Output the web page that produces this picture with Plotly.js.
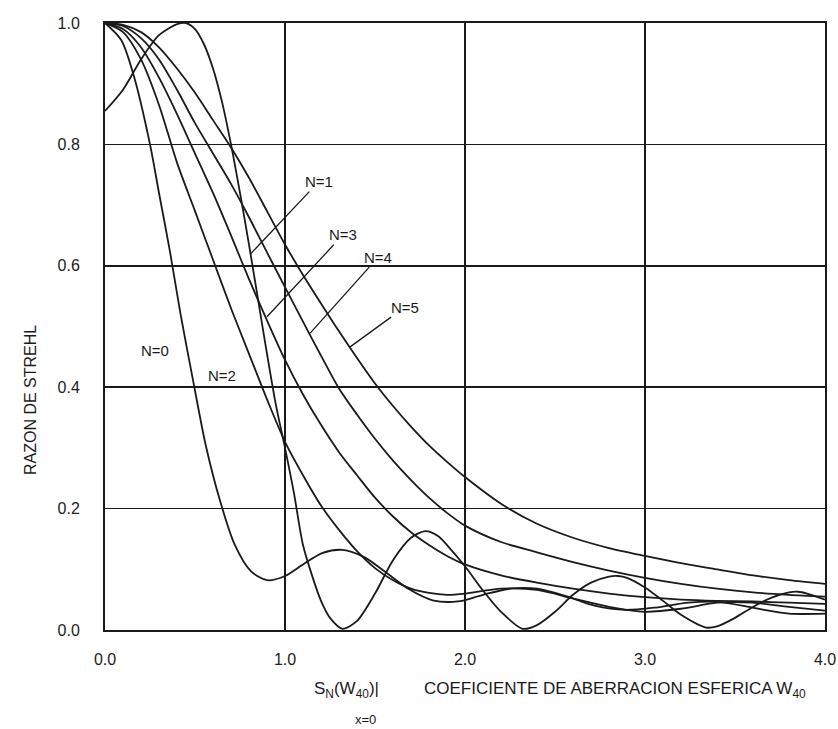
<!DOCTYPE html>
<html>
<head>
<meta charset="utf-8">
<script src="https://cdn.plot.ly/plotly-3.0.1.min.js"></script>
<style>html,body{margin:0;padding:0;background:#fff;}#chart{width:838px;height:729px;}</style>
</head>
<body>
<div id="chart"></div>
<script>
// N = 0
const xN0 = [0, 0.09, 0.16, 0.25, 0.30, 0.36, 0.42, 0.49, 0.56, 0.64, 0.72, 0.81, 0.90, 1.00, 1.10, 1.21, 1.32, 1.44, 1.56, 1.69, 1.82, 1.96, 2.10, 2.25, 2.40, 2.56, 2.72, 2.89, 3.06, 3.24, 3.42, 3.61, 3.80, 4.00];
const yN0 = [1.0, 0.972, 0.913, 0.800, 0.720, 0.625, 0.520, 0.410, 0.304, 0.212, 0.141, 0.097, 0.082, 0.089, 0.108, 0.127, 0.132, 0.120, 0.095, 0.067, 0.049, 0.047, 0.058, 0.068, 0.068, 0.056, 0.040, 0.033, 0.037, 0.045, 0.046, 0.036, 0.027, 0.027];
// N = 1
const xN1 = [0, 0.1, 0.2, 0.3, 0.4, 0.45, 0.5, 0.55, 0.6, 0.65, 0.7, 0.75, 0.8, 0.85, 0.9, 0.95, 1.0, 1.05, 1.1, 1.15, 1.2, 1.25, 1.32, 1.4, 1.5, 1.6, 1.7, 1.78, 1.85, 1.9, 2.0, 2.1, 2.2, 2.32, 2.4, 2.5, 2.6, 2.7, 2.8, 2.85, 2.9, 3.0, 3.1, 3.2, 3.34, 3.4, 3.5, 3.6, 3.7, 3.8, 3.85, 3.9, 4.0];
const yN1 = [0.855, 0.89, 0.94, 0.98, 0.998, 1.0, 0.99, 0.965, 0.925, 0.87, 0.80, 0.72, 0.635, 0.545, 0.455, 0.37, 0.30, 0.225, 0.14, 0.09, 0.048, 0.02, 0.002, 0.015, 0.06, 0.115, 0.152, 0.163, 0.155, 0.14, 0.105, 0.065, 0.03, 0.002, 0.008, 0.03, 0.058, 0.078, 0.088, 0.089, 0.086, 0.07, 0.048, 0.025, 0.004, 0.006, 0.02, 0.038, 0.053, 0.062, 0.063, 0.06, 0.05];
// N = 2
const xN2 = [0, 0.1, 0.2, 0.3, 0.4, 0.5, 0.6, 0.7, 0.8, 0.9, 1.0, 1.1, 1.2, 1.3, 1.4, 1.5, 1.6, 1.7, 1.8, 1.9, 2.0, 2.2, 2.4, 2.6, 2.8, 3.0, 3.2, 3.4, 3.6, 3.8, 4.0];
const yN2 = [1.0, 0.985, 0.94, 0.865, 0.77, 0.69, 0.61, 0.53, 0.455, 0.38, 0.31, 0.255, 0.205, 0.165, 0.13, 0.102, 0.082, 0.068, 0.061, 0.058, 0.06, 0.068, 0.066, 0.052, 0.038, 0.03, 0.035, 0.045, 0.045, 0.038, 0.032];
// N = 3
const xN3 = [0, 0.1, 0.2, 0.3, 0.4, 0.5, 0.6, 0.7, 0.8, 0.9, 1.0, 1.1, 1.2, 1.3, 1.4, 1.5, 1.6, 1.7, 1.8, 1.9, 2.0, 2.2, 2.4, 2.6, 2.8, 3.0, 3.2, 3.4, 3.6, 3.8, 4.0];
const yN3 = [1.0, 0.99, 0.96, 0.91, 0.85, 0.785, 0.72, 0.65, 0.578, 0.51, 0.445, 0.388, 0.338, 0.293, 0.255, 0.218, 0.187, 0.161, 0.14, 0.122, 0.108, 0.09, 0.078, 0.068, 0.06, 0.054, 0.05, 0.048, 0.047, 0.045, 0.043];
// N = 4
const xN4 = [0, 0.1, 0.2, 0.3, 0.4, 0.5, 0.6, 0.7, 0.8, 0.9, 1.0, 1.1, 1.2, 1.3, 1.4, 1.5, 1.6, 1.7, 1.8, 1.9, 2.0, 2.2, 2.4, 2.6, 2.8, 3.0, 3.2, 3.4, 3.6, 3.8, 4.0];
const yN4 = [1.0, 0.995, 0.975, 0.94, 0.89, 0.835, 0.785, 0.735, 0.68, 0.622, 0.565, 0.508, 0.452, 0.398, 0.355, 0.315, 0.279, 0.247, 0.218, 0.193, 0.172, 0.145, 0.128, 0.112, 0.098, 0.086, 0.076, 0.068, 0.062, 0.058, 0.055];
// N = 5
const xN5 = [0, 0.1, 0.2, 0.3, 0.4, 0.5, 0.6, 0.7, 0.8, 0.9, 1.0, 1.1, 1.2, 1.3, 1.4, 1.5, 1.6, 1.7, 1.8, 1.9, 2.0, 2.2, 2.4, 2.6, 2.8, 3.0, 3.2, 3.4, 3.6, 3.8, 4.0];
const yN5 = [1.0, 0.997, 0.985, 0.96, 0.925, 0.885, 0.84, 0.795, 0.745, 0.69, 0.635, 0.585, 0.538, 0.492, 0.448, 0.406, 0.369, 0.335, 0.304, 0.277, 0.252, 0.208, 0.175, 0.152, 0.135, 0.122, 0.11, 0.10, 0.09, 0.082, 0.076];

const xTickVals = [0, 1, 2, 3, 4];
const xTickText = ['0.0', '1.0', '2.0', '3.0', '4.0'];
const yTickVals = [0, 0.2, 0.4, 0.6, 0.8, 1.0];
const yTickText = ['0.0', '0.2', '0.4', '0.6', '0.8', '1.0'];

const seriesX = [xN0, xN1, xN2, xN3, xN4, xN5];
const seriesY = [yN0, yN1, yN2, yN3, yN4, yN5];
const seriesNames = ['N=0', 'N=1', 'N=2', 'N=3', 'N=4', 'N=5'];

const traces = seriesX.map((xs, i) => ({
  x: xs, y: seriesY[i], name: seriesNames[i], type: 'scatter', mode: 'lines',
  line: {color: '#1a1a1a', width: 1.8, shape: 'spline', smoothing: 0.8},
  hoverinfo: 'skip', showlegend: false
}));

const F = 'Liberation Sans, Arial, sans-serif';
const lab = {family: F, size: 15, color: '#1a1a1a'};
const ink = '#1a1a1a';

// paper-coordinate helpers (plot area: 105..825 px wide, 23..630 px tall)
const px = v => (v - 105) / 720;
const py = v => (630 - v) / 607;

const annotations = [
  {x: 0.81, y: 0.62, xref: 'x', yref: 'y', text: 'N=1', showarrow: true, arrowhead: 0, arrowwidth: 1.3, arrowcolor: ink, ax: 68, ay: -72, font: lab},
  {x: 0.90, y: 0.516, xref: 'x', yref: 'y', text: 'N=3', showarrow: true, arrowhead: 0, arrowwidth: 1.3, arrowcolor: ink, ax: 76, ay: -82, font: lab},
  {x: 1.14, y: 0.489, xref: 'x', yref: 'y', text: 'N=4', showarrow: true, arrowhead: 0, arrowwidth: 1.3, arrowcolor: ink, ax: 68, ay: -76, font: lab},
  {x: 1.36, y: 0.466, xref: 'x', yref: 'y', text: 'N=5', showarrow: true, arrowhead: 0, arrowwidth: 1.3, arrowcolor: ink, ax: 55, ay: -40, font: lab},
  {x: 0.28, y: 0.46, xref: 'x', yref: 'y', text: 'N=0', showarrow: false, font: lab},
  {x: 0.65, y: 0.42, xref: 'x', yref: 'y', text: 'N=2', showarrow: false, font: lab},
  {xref: 'paper', yref: 'paper', x: px(346), y: py(690), xanchor: 'center', yanchor: 'middle', text: 'S<sub>N</sub>(W<sub>40</sub>)|', showarrow: false, font: {family: F, size: 17, color: ink}},
  {xref: 'paper', yref: 'paper', x: px(365), y: py(719), xanchor: 'center', yanchor: 'middle', text: 'x=0', showarrow: false, font: {family: F, size: 13, color: ink}},
  {xref: 'paper', yref: 'paper', x: px(615), y: py(690), xanchor: 'center', yanchor: 'middle', text: 'COEFICIENTE DE ABERRACION ESFERICA W<sub>40</sub>', showarrow: false, font: {family: F, size: 17, color: ink}},
  {xref: 'paper', yref: 'paper', x: px(30), y: py(400), xanchor: 'center', yanchor: 'middle', text: 'RAZON DE STREHL', textangle: -90, showarrow: false, font: {family: F, size: 16, color: ink}}
];

const layout = {
  width: 838, height: 729,
  paper_bgcolor: '#ffffff', plot_bgcolor: '#ffffff',
  margin: {l: 105, r: 13, t: 23, b: 99},
  showlegend: false,
  xaxis: {
    range: [0, 4], tickvals: xTickVals, ticktext: xTickText,
    showgrid: true, gridcolor: ink, gridwidth: 1.5,
    showline: true, linecolor: ink, linewidth: 2, mirror: true,
    zeroline: false, ticks: '', ticklabelstandoff: 14,
    tickfont: {family: F, size: 16, color: '#222'}
  },
  yaxis: {
    range: [0, 1], tickvals: yTickVals, ticktext: yTickText,
    showgrid: true, gridcolor: ink, gridwidth: 1.5,
    showline: true, linecolor: ink, linewidth: 2, mirror: true,
    zeroline: false, ticks: '', ticklabelstandoff: 20,
    tickfont: {family: F, size: 16, color: '#222'}
  },
  annotations: annotations
};

Plotly.newPlot('chart', traces, layout, {staticPlot: true, displayModeBar: false});
</script>
</body>
</html>
